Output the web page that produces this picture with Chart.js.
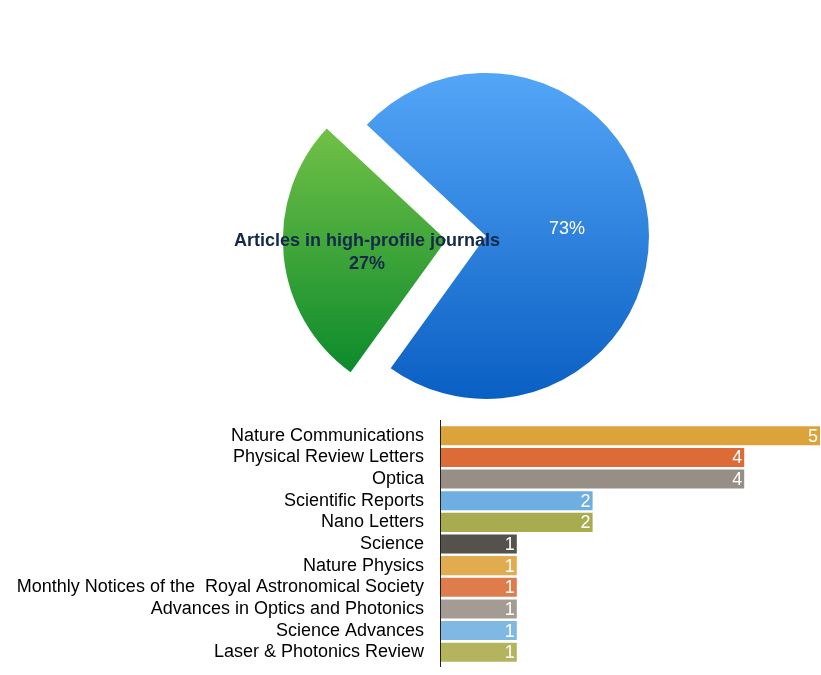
<!DOCTYPE html>
<html>
<head>
<meta charset="utf-8">
<script src="https://cdn.jsdelivr.net/npm/chart.js@4.4.1/dist/chart.umd.min.js"></script>
<style>
  html, body { margin: 0; padding: 0; background: #ffffff; }
  #wrap { position: relative; width: 821px; height: 675px; overflow: hidden; }
  #pieBox { position: absolute; left: 0; top: 0; width: 821px; height: 415px; }
  #barBox { position: absolute; left: 0; top: 415px; width: 821px; height: 260px; }
</style>
</head>
<body>
<div id="wrap">
  <div id="pieBox"><canvas id="pie"></canvas></div>
  <div id="barBox"><canvas id="bar"></canvas></div>
</div>
<script>
// ---- data ----
const pieLabels = ["Articles in high-profile journals", ""];
const pieValues = [27, 73];
const pieTexts = ["27%", "73%"];

const journals = [
  "Nature Communications",
  "Physical Review Letters",
  "Optica",
  "Scientific Reports",
  "Nano Letters",
  "Science",
  "Nature Physics",
  "Monthly Notices of the  Royal Astronomical Society",
  "Advances in Optics and Photonics",
  "Science Advances",
  "Laser & Photonics Review"
];
const articleCounts = [5, 4, 4, 2, 2, 1, 1, 1, 1, 1, 1];
const barColors = [
  "#dca33b", "#dc6b37", "#978f86", "#6eaee1", "#a9ab4f",
  "#55524d", "#e0ac4f", "#df7c4c", "#a39b94", "#80b8e4", "#b4b45f"
];

const FONT = "'Liberation Sans', Arial, Helvetica, sans-serif";
Chart.defaults.font.family = FONT;

// ---- pie ----
const gradCache = {};
function pieFill(ctx) {
  const chart = ctx.chart;
  const i = ctx.dataIndex;
  if (i === undefined) return "#888";
  if (gradCache[i]) return gradCache[i];
  const c = chart.ctx;
  let g;
  if (i === 0) {
    g = c.createLinearGradient(0, 127, 0, 371);
    g.addColorStop(0, "#70c046");
    g.addColorStop(1, "#0b8a2c");
  } else {
    g = c.createLinearGradient(0, 73, 0, 399);
    g.addColorStop(0, "#53a6f7");
    g.addColorStop(1, "#0a5fc3");
  }
  gradCache[i] = g;
  return g;
}

const pieLabelPlugin = {
  id: "pieLabelPlugin",
  afterDatasetsDraw(chart) {
    const meta = chart.getDatasetMeta(0);
    const c = chart.ctx;
    c.save();
    c.textAlign = "center";
    c.textBaseline = "middle";
    meta.data.forEach((arc, i) => {
      const p = arc.getProps(["x", "y", "startAngle", "endAngle", "outerRadius"], true);
      const mid = (p.startAngle + p.endAngle) / 2;
      const shift = (arc.options.offset || 0) / 4;
      const r = p.outerRadius * 0.5 + shift;
      const x = p.x + Math.cos(mid) * r;
      const y = p.y + Math.sin(mid) * r;
      if (i === 0) {
        c.fillStyle = "#13284b";
        c.font = "bold 18px " + FONT;
        c.fillText(pieLabels[0], x + 2, y - 7);
        c.fillText(pieTexts[0], x + 2, y + 16);
      } else {
        c.fillStyle = "#ffffff";
        c.font = "18px " + FONT;
        c.fillText(pieTexts[1], x, y + 1);
      }
    });
    c.restore();
  }
};

new Chart(document.getElementById("pie"), {
  type: "pie",
  data: {
    labels: pieLabels,
    datasets: [{
      data: pieValues,
      backgroundColor: pieFill,
      borderWidth: 0,
      offset: [160, 0]
    }]
  },
  options: {
    responsive: true,
    maintainAspectRatio: false,
    animation: false,
    rotation: 215.8,
    radius: 163,
    layout: { padding: { left: 300, right: 149, top: 60, bottom: 3 } },
    plugins: { legend: { display: false }, tooltip: { enabled: false } }
  },
  plugins: [pieLabelPlugin]
});

// ---- bars ----
const barValuePlugin = {
  id: "barValuePlugin",
  afterDatasetsDraw(chart) {
    const meta = chart.getDatasetMeta(0);
    const c = chart.ctx;
    c.save();
    c.fillStyle = "#ffffff";
    c.font = "18px " + FONT;
    c.textAlign = "right";
    c.textBaseline = "middle";
    meta.data.forEach((bar, i) => {
      c.fillText(String(articleCounts[i]), bar.x - 2, bar.y + 1);
    });
    // axis line
    const a = chart.chartArea;
    c.strokeStyle = "#222222";
    c.lineWidth = 1;
    c.beginPath();
    c.moveTo(a.left - 0.5, a.top - 5);
    c.lineTo(a.left - 0.5, a.bottom + 4);
    c.stroke();
    c.restore();
  }
};

new Chart(document.getElementById("bar"), {
  type: "bar",
  data: {
    labels: journals,
    datasets: [{
      data: articleCounts,
      backgroundColor: barColors,
      borderWidth: 0,
      barPercentage: 0.88,
      categoryPercentage: 1.0
    }]
  },
  options: {
    indexAxis: "y",
    responsive: true,
    maintainAspectRatio: false,
    animation: false,
    layout: { padding: { left: 0, right: 1, top: 10, bottom: 12 } },
    plugins: { legend: { display: false }, tooltip: { enabled: false } },
    scales: {
      x: { display: false, min: 0, max: 5 },
      y: {
        grid: { display: false, drawTicks: false },
        border: { display: false },
        ticks: {
          color: "#000000",
          font: { size: 18, family: FONT },
          padding: 17,
          autoSkip: false
        },
        afterFit(scale) {
          scale.width = 441;
          scale.paddingTop = 0;
          scale.paddingBottom = 0;
        }
      }
    }
  },
  plugins: [barValuePlugin]
});
</script>
</body>
</html>
